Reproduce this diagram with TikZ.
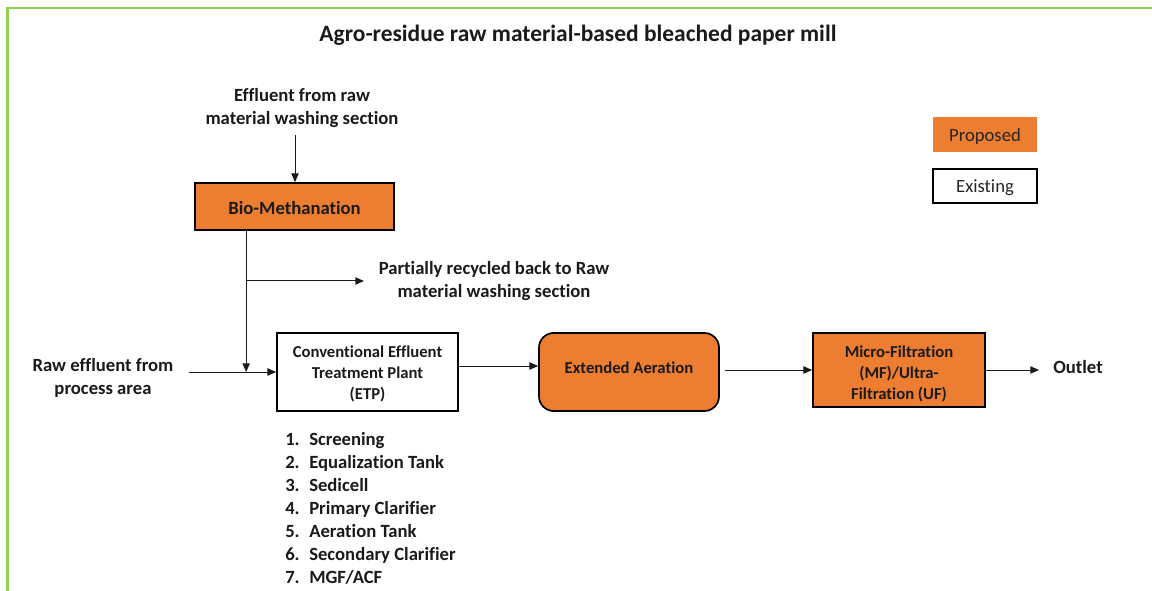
\documentclass[tikz,border=0pt]{standalone}
\usepackage{fontspec}
\setmainfont{Carlito}[Ligatures=NoCommon]
\usetikzlibrary{arrows.meta}
\definecolor{orng}{HTML}{ED7D31}
\definecolor{framegreen}{HTML}{92D050}
\definecolor{ink}{HTML}{1A1A1A}
\definecolor{legendink}{HTML}{262626}

\begin{document}
\begin{tikzpicture}[x=0.75pt,y=-0.75pt,
  flow/.style={-{Triangle[length=6.5pt,width=5.5pt]}, line width=0.75pt, draw=ink},
  unitbox/.style={draw=black, line width=1.3pt, inner sep=0pt},
  unittext/.style={align=center, inner sep=0pt, text=ink,
    font=\fontsize{12.5}{15.75}\selectfont\bfseries},
  txt/.style={align=center, inner sep=0pt, text=ink,
    font=\fontsize{14}{17.25}\selectfont\bfseries},
  legendbox/.style={minimum width=78pt, inner sep=0pt, text=legendink,
    font=\fontsize{14}{17}\selectfont}
]
\useasboundingbox (0,0) rectangle (1152,591);

% outer frame
\draw[framegreen, line width=1.6pt] (7.5,591) -- (7.5,8) -- (1152,8);

% title
\node[txt, font=\fontsize{17.6}{21}\selectfont\bfseries] (title) at (578,35)
  {Agro-residue raw material-based bleached paper mill};

% legend
\node[legendbox, fill=orng, minimum height=26.25pt] (proposed) at (985,134.5) {};
\node[legendbox, fill=none] (proposedlbl) at (985,136.5) {Proposed};
\node[legendbox, draw=black, line width=1.3pt, minimum height=25.5pt] (existing) at (985,186) {};
\node[legendbox, fill=none] (existinglbl) at (985,188) {Existing};

% process units
\node[unitbox, fill=orng, minimum width=149.25pt, minimum height=35.25pt] (bio) at (294.5,206.5) {};
\node[txt] (biolbl) at (294.5,208.5) {Bio-Methanation};
\node[unitbox, fill=white, minimum width=135.75pt, minimum height=58.5pt] (etp) at (367.5,372) {};
\node[unittext] (etplbl) at (367.5,373.5) {Conventional Effluent\\Treatment Plant\\(ETP)};
\node[unitbox, fill=orng, minimum width=135pt, minimum height=58.5pt, rounded corners=11pt] (ea) at (629,372) {};
\node[unittext] (ealbl) at (629,367.5) {Extended Aeration};
\node[unitbox, fill=orng, minimum width=129pt, minimum height=55.5pt] (mf) at (899,370) {};
\node[unittext] (mflbl) at (899,373.5) {Micro-Filtration\\(MF)/Ultra-\\Filtration (UF)};

% side labels
\node[txt] (efflbl) at (302,108.5) {Effluent from raw\\material washing section};
\node[txt] (reclbl) at (494,281.5) {Partially recycled back to Raw\\material washing section};
\node[txt] (rawlbl) at (103,378) {Raw effluent from\\process area};
\node[txt, anchor=west] (outlet) at (1053,367.5) {Outlet};

% ETP stages
\node[txt, align=left, anchor=west] (stages) at (285,508) {%
  \makebox[18pt][l]{1.}Screening\\
  \makebox[18pt][l]{2.}Equalization Tank\\
  \makebox[18pt][l]{3.}Sedicell\\
  \makebox[18pt][l]{4.}Primary Clarifier\\
  \makebox[18pt][l]{5.}Aeration Tank\\
  \makebox[18pt][l]{6.}Secondary Clarifier\\
  \makebox[18pt][l]{7.}MGF/ACF};

% connectors
\coordinate (effin) at (295,135);
\coordinate (rawin) at (189,372);
\coordinate (rec) at (364,281);
\coordinate (drop) at ([xshift=39pt]bio.south west);
\coordinate (merge) at (drop |- etp.west);

\draw[flow] (effin) -- (effin |- bio.north);
\draw[flow] (drop) -- (merge);
\draw[flow] (drop |- rec) -- (rec);
\draw[flow] (rawin) -- (etp.west);
\draw[flow] ([yshift=4.5pt]etp.east) -- ([yshift=4.5pt]ea.west);
\draw[flow, shorten <=3.75pt] (ea.east |- mf.west) -- (mf.west);
\draw[flow, shorten >=10.5pt] (mf.east) -- (outlet.west |- mf.east);
\end{tikzpicture}
\end{document}
